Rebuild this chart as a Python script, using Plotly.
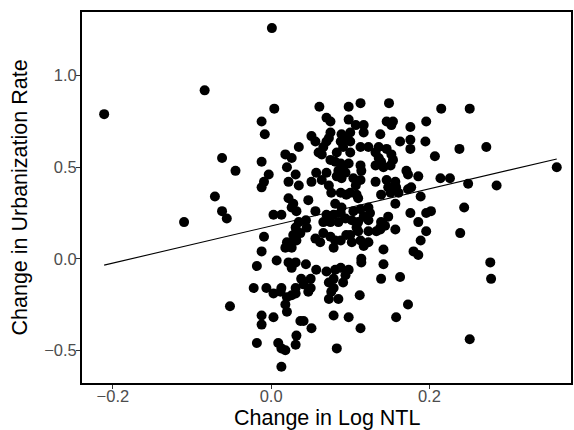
import plotly.graph_objects as go

# Change in Log NTL (x) and Change in Urbanization Rate (y)
ntl = [
    -0.211, -0.110, -0.084, -0.071, -0.062, -0.056, -0.062, -0.045, -0.052, 0.001,
    -0.012, -0.008, -0.012, -0.003, -0.009, -0.012, -0.009, -0.012, -0.018, -0.022,
    -0.006, -0.012, -0.012,
    0.004, 0.061, 0.098, 0.070, 0.075, 0.098, 0.051, 0.056, 0.075, 0.073,
    0.070, 0.066, 0.089, 0.095, 0.088, 0.091, 0.035, 0.060, 0.064, 0.018,
    0.026, 0.083, 0.075, 0.081, 0.088, 0.091, 0.085, 0.094, 0.083, 0.020,
    0.031, 0.057, 0.070, 0.022, 0.035, 0.051, 0.064, 0.073, 0.089,
    0.113, 0.149, 0.107, 0.117, 0.117, 0.100, 0.146, 0.154, 0.152, 0.176,
    0.196, 0.138, 0.163, 0.176, 0.176, 0.195, 0.100, 0.100, 0.113, 0.123,
    0.136, 0.146, 0.132, 0.136, 0.139, 0.152, 0.154, 0.132, 0.142, 0.151,
    0.113, 0.114, 0.098, 0.171, 0.173, 0.186, 0.104, 0.113, 0.107, 0.132,
    0.146, 0.157, 0.148, 0.158, 0.177,
    0.215, 0.207, 0.238, 0.214, 0.226, 0.249,
    0.022, 0.028, 0.026, 0.032, 0.047, 0.076, 0.088, 0.095, 0.081, 0.089,
    0.003, 0.013, 0.056, 0.070, 0.079, 0.088, 0.094, 0.085, 0.075, 0.066,
    0.035, 0.044, 0.045, 0.031, 0.037, 0.028, 0.026, 0.020, 0.018, 0.026,
    0.032, 0.066, 0.075, 0.056, 0.062, 0.081, 0.088, 0.079, 0.095, 0.007,
    0.022, 0.031, 0.026, 0.044, 0.057, 0.070, 0.081, 0.088, 0.079, 0.094,
    0.038, 0.050, 0.013, 0.031, 0.041, 0.050, 0.073, 0.079, 0.091,
    0.100, 0.108, 0.110, 0.139, 0.151, 0.161, 0.173, 0.189, 0.157, 0.176,
    0.186, 0.196, 0.104, 0.113, 0.123, 0.125, 0.102, 0.110, 0.117, 0.123,
    0.148, 0.139, 0.138, 0.144, 0.108, 0.110, 0.100, 0.123, 0.133, 0.138,
    0.157, 0.196, 0.102, 0.113, 0.117, 0.123, 0.189, 0.142, 0.180, 0.186,
    0.114, 0.114, 0.142, 0.098, 0.139, 0.163,
    0.202, 0.244, 0.239,
    0.003, 0.012, 0.020, 0.026, 0.031, 0.018, 0.020, 0.047, 0.076, 0.073,
    0.085, 0.003, 0.037, 0.041, 0.051, 0.079, 0.098, 0.032, 0.009, 0.013,
    0.018, 0.031, 0.083, 0.013,
    0.112, 0.173, 0.158, 0.113,
    0.272, 0.285, 0.277, 0.278, 0.251, 0.361, 0.251, -0.018,
]
urb = [
    0.79, 0.20, 0.92, 0.34, 0.26, 0.22, 0.55, 0.48, -0.26, 1.26,
    0.75, 0.68, 0.53, 0.46, 0.42, 0.39, 0.12, 0.04, -0.04, -0.16,
    -0.16, -0.31, -0.36,
    0.82, 0.83, 0.83, 0.77, 0.75, 0.76, 0.67, 0.64, 0.69, 0.66,
    0.64, 0.61, 0.68, 0.65, 0.64, 0.61, 0.61, 0.58, 0.57, 0.57,
    0.55, 0.58, 0.54, 0.53, 0.52, 0.50, 0.48, 0.47, 0.45, 0.50,
    0.46, 0.47, 0.47, 0.42, 0.40, 0.42, 0.43, 0.40, 0.44,
    0.85, 0.85, 0.73, 0.73, 0.69, 0.69, 0.75, 0.75, 0.73, 0.72,
    0.75, 0.68, 0.64, 0.65, 0.60, 0.64, 0.64, 0.58, 0.61, 0.61,
    0.61, 0.60, 0.58, 0.55, 0.53, 0.57, 0.54, 0.51, 0.50, 0.51,
    0.51, 0.48, 0.52, 0.48, 0.46, 0.45, 0.44, 0.43, 0.40, 0.42,
    0.43, 0.42, 0.39, 0.39, 0.39,
    0.82, 0.56, 0.60, 0.44, 0.44, 0.41,
    0.33, 0.30, 0.28, 0.26, 0.32, 0.36, 0.36, 0.35, 0.30, 0.28,
    0.24, 0.24, 0.26, 0.24, 0.24, 0.25, 0.22, 0.20, 0.20, 0.20,
    0.20, 0.21, 0.17, 0.17, 0.14, 0.13, 0.09, 0.09, 0.06, 0.06,
    0.10, 0.14, 0.12, 0.11, 0.09, 0.10, 0.10, 0.06, 0.13, -0.01,
    -0.02, -0.02, -0.05, -0.03, -0.06, -0.07, -0.06, -0.05, -0.11, -0.09,
    -0.11, -0.11, -0.16, -0.16, -0.14, -0.16, -0.13, -0.16, -0.13,
    0.36, 0.35, 0.33, 0.35, 0.36, 0.36, 0.38, 0.34, 0.30, 0.25,
    0.20, 0.25, 0.26, 0.27, 0.28, 0.25, 0.21, 0.20, 0.23, 0.21,
    0.23, 0.20, 0.17, 0.18, 0.17, 0.15, 0.13, 0.15, 0.15, 0.16,
    0.16, 0.15, 0.09, 0.10, 0.07, 0.09, 0.10, 0.05, 0.04, 0.02,
    0.00, -0.02, -0.03, -0.06, -0.11, -0.10,
    0.26, 0.28, 0.14,
    -0.19, -0.18, -0.21, -0.20, -0.19, -0.25, -0.29, -0.18, -0.18, -0.22,
    -0.22, -0.32, -0.34, -0.34, -0.38, -0.31, -0.32, -0.42, -0.46, -0.49,
    -0.50, -0.47, -0.49, -0.59,
    -0.20, -0.25, -0.32, -0.38,
    0.61, 0.40, -0.02, -0.11, -0.44, 0.50, 0.82, -0.46,
]

# Fitted regression line (endpoints)
fit_x = [-0.211, 0.361]
fit_y = [-0.035, 0.545]

x_ticks = [-0.2, 0.0, 0.2]
y_ticks = [-0.5, 0.0, 0.5, 1.0]
x_title = "Change in Log NTL"
y_title = "Change in Urbanization Rate"

FONT = "Liberation Sans, Arial, Helvetica, sans-serif"

fig = go.Figure()
fig.add_trace(go.Scatter(
    x=ntl, y=urb, mode="markers",
    marker=dict(color="black", size=10, line=dict(width=0)),
    showlegend=False, hoverinfo="x+y",
))
fig.add_trace(go.Scatter(
    x=fit_x, y=fit_y, mode="lines",
    line=dict(color="black", width=1.1),
    showlegend=False,
))

axis_common = dict(
    showgrid=False, zeroline=False,
    showline=True, linecolor="black", linewidth=1.8, mirror=True,
    ticks="outside", ticklen=4, tickwidth=1, tickcolor="#333333",
    tickfont=dict(family=FONT, size=16.5, color="#4D4D4D"),
    tickformat=".1f",
)

fig.update_layout(
    width=574, height=430,
    margin=dict(l=82, r=1, t=12, b=47),
    paper_bgcolor="white", plot_bgcolor="white",
    font=dict(family=FONT, color="black"),
    xaxis=dict(range=[-0.239, 0.379], tickvals=x_ticks, ticklabelstandoff=-7, **axis_common),
    yaxis=dict(range=[-0.679, 1.348], tickvals=y_ticks, ticklabelstandoff=-4, **axis_common),
    annotations=[
        dict(text=x_title, xref="paper", yref="paper", x=0.5, y=0,
             xanchor="center", yanchor="middle", yshift=-35, showarrow=False,
             font=dict(family=FONT, size=21.5, color="black")),
        dict(text=y_title, xref="paper", yref="paper", x=0, y=0.5, textangle=-90,
             xanchor="center", yanchor="middle", xshift=-63, showarrow=False,
             font=dict(family=FONT, size=21.5, color="black")),
    ],
)

fig.write_html("out.html")
